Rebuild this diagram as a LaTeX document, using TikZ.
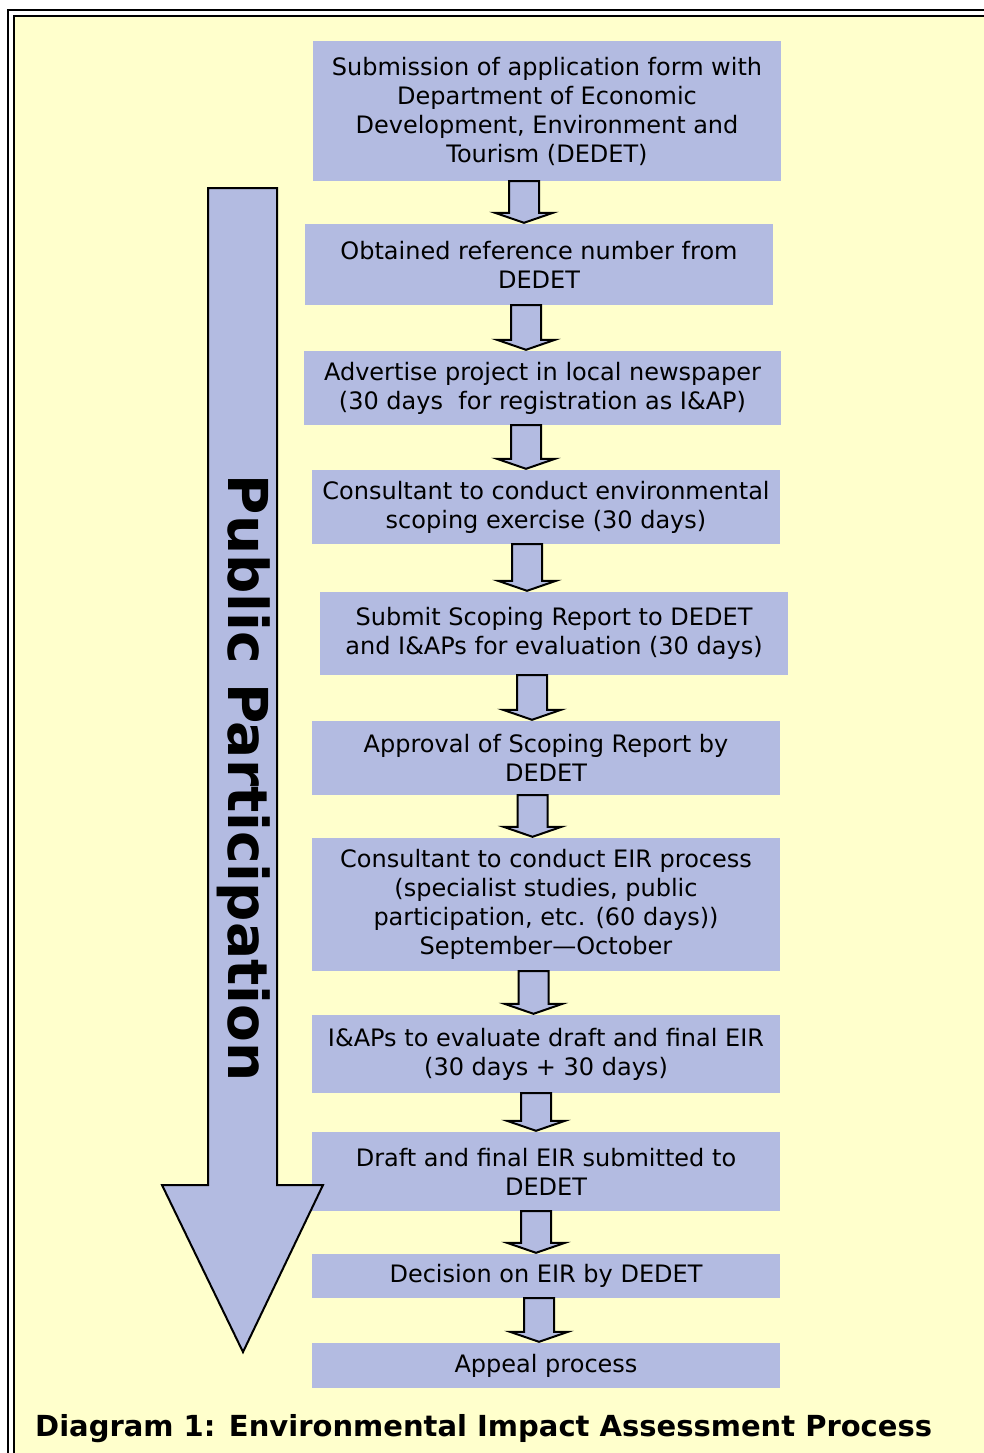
\documentclass[tikz,border=0pt]{standalone}
\usepackage{fontspec}
\setmainfont{DejaVu Sans}
\usepackage{xcolor}
\usetikzlibrary{calc}

\definecolor{paper}{RGB}{255,255,204}
\definecolor{boxblue}{RGB}{179,187,225}

\tikzset{
  procbox/.style={fill=boxblue, inner sep=0pt, align=center,
    font=\fontsize{24}{29}\selectfont},
  flowarrow/.style={draw=black, line width=2pt, fill=boxblue},
}

% block arrow from the bottom of #1 to the top of #2, at x = #3
\newcommand{\blockdown}[3]{%
  \coordinate (bd-top) at (#1.south -| #3,0);
  \coordinate (bd-tip) at ($(#2.north -| #3,0)+(0,-1)$);
  \draw[flowarrow] ($(bd-top)+(-15,0)$) -- ($(bd-tip)+(-15,-10)$)
    -- ($(bd-tip)+(-29,-10)$) -- (bd-tip) -- ($(bd-tip)+(29,-10)$)
    -- ($(bd-tip)+(15,-10)$) -- ($(bd-top)+(15,0)$) -- cycle;
}

\begin{document}
\begin{tikzpicture}[x=1pt,y=-1pt]
\useasboundingbox (0,0) rectangle (984,1453);
\clip (0,0) rectangle (984,1453);
\fill[white] (0,0) rectangle (984,1453);
% frame
\draw[black, line width=2pt] (8.3,10) rectangle (1010,1480);
\draw[black, line width=2.5pt, fill=paper] (14,15.8) rectangle (1004,1474);

% steps
\node[procbox, minimum width=468pt, minimum height=140pt] (apply) at (547,111)
  {Submission of application form with\\Department of Economic\\Development, Environment and\\Tourism (DEDET)};
\node[procbox, minimum width=468pt, minimum height=81pt] (refno) at (539,264.5)
  {Obtained reference number from\\DEDET};
\node[procbox, minimum width=477pt, minimum height=74pt] (advert) at (542.5,388)
  {Advertise project in local newspaper\\(30 days\ \ for registration as I\&AP)};
\node[procbox, minimum width=468pt, minimum height=74pt] (scoping) at (546,507)
  {Consultant to conduct environmental\\scoping exercise (30 days)};
\node[procbox, minimum width=468pt, minimum height=83pt] (report) at (554,633.5)
  {Submit Scoping Report to DEDET\\and I\&APs for evaluation (30 days)};
\node[procbox, minimum width=468pt, minimum height=74pt] (approval) at (546,758)
  {Approval of Scoping Report by\\DEDET};
\node[procbox, minimum width=468pt, minimum height=133pt] (eir) at (546,904.5)
  {Consultant to conduct EIR process\\(specialist studies, public\\participation, etc. (60 days))\\September—October};
\node[procbox, minimum width=468pt, minimum height=78pt] (evaluate) at (546,1054)
  {I\&APs to evaluate draft and final EIR\\(30 days + 30 days)};
\node[procbox, minimum width=468pt, minimum height=79pt] (submitted) at (546,1171.5)
  {Draft and final EIR submitted to\\DEDET};
\node[procbox, minimum width=468pt, minimum height=44pt] (decision) at (546,1276)
  {Decision on EIR by DEDET};
\node[procbox, minimum width=468pt, minimum height=45pt] (appeal) at (546,1365.5)
  {Appeal process};

% arrows between steps
\blockdown{apply}{refno}{524}
\blockdown{refno}{advert}{526}
\blockdown{advert}{scoping}{526}
\blockdown{scoping}{report}{527}
\blockdown{report}{approval}{532}
\blockdown{approval}{eir}{532.5}
\blockdown{eir}{evaluate}{533.5}
\blockdown{evaluate}{submitted}{536}
\blockdown{submitted}{decision}{536}
\blockdown{decision}{appeal}{539}

% public participation arrow
\filldraw[fill=boxblue, draw=black, line width=2pt]
  (208,188) -- (277,188) -- (277,1185) -- (323,1185) -- (243,1352)
  -- (162,1185) -- (208,1185) -- cycle;
\node[rotate=-90, anchor=base, font=\bfseries\fontsize{55}{60}\selectfont] (public) at (228,778)
  {Public Participation};

% caption
\node[anchor=base west, inner sep=0pt, font=\bfseries\fontsize{29}{33}\selectfont] (caption) at (35,1436)
  {Diagram 1: Environmental Impact Assessment Process};
\end{tikzpicture}
\end{document}
